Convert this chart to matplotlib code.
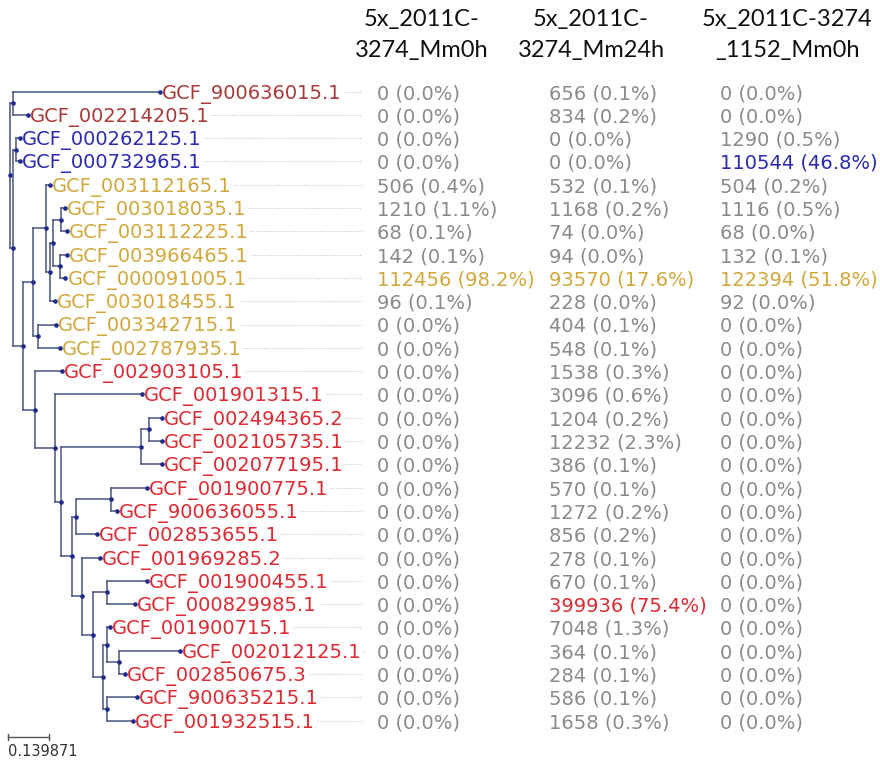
import matplotlib
matplotlib.use("Agg")
import matplotlib.pyplot as plt

# --- data ---------------------------------------------------------------
labels = [
    "GCF_900636015.1", "GCF_002214205.1", "GCF_000262125.1", "GCF_000732965.1",
    "GCF_003112165.1", "GCF_003018035.1", "GCF_003112225.1", "GCF_003966465.1",
    "GCF_000091005.1", "GCF_003018455.1", "GCF_003342715.1", "GCF_002787935.1",
    "GCF_002903105.1", "GCF_001901315.1", "GCF_002494365.2", "GCF_002105735.1",
    "GCF_002077195.1", "GCF_001900775.1", "GCF_900636055.1", "GCF_002853655.1",
    "GCF_001969285.2", "GCF_001900455.1", "GCF_000829985.1", "GCF_001900715.1",
    "GCF_002012125.1", "GCF_002850675.3", "GCF_900635215.1", "GCF_001932515.1",
]
groups = ["brown"] * 2 + ["blue"] * 2 + ["gold"] * 8 + ["red"] * 16

palette = {
    "brown": "#a93a38",
    "blue": "#2b2bb0",
    "gold": "#d2a83c",
    "red": "#dc2a32",
}

# tree, branch lengths in substitutions/site
tree_newick = (
    "((GCF_900636015.1:0.501,GCF_002214205.1:0.051):0.010,"
    "((GCF_000262125.1:0.014,GCF_000732965.1:0.014):0.010,"
    "(((GCF_003112165.1:0.014,"
    "(((GCF_003018035.1:0.014,GCF_003112225.1:0.020):0.027,"
    "(GCF_003966465.1:0.024,GCF_000091005.1:0.019):0.024):0.010,"
    "GCF_003018455.1:0.017):0.014):0.044,"
    "(GCF_003342715.1:0.061,GCF_002787935.1:0.075):0.017):0.034,"
    "(GCF_002903105.1:0.092,"
    "(GCF_001901315.1:0.297,"
    "(((GCF_002494365.2:0.044,GCF_002105735.1:0.044):0.027,"
    "GCF_002077195.1:0.072):0.273,"
    "(((GCF_001900775.1:0.123,GCF_900636055.1:0.020):0.119,"
    "GCF_002853655.1:0.072):0.014,"
    "(GCF_001969285.2:0.061,"
    "((GCF_001900455.1:0.136,GCF_000829985.1:0.096):0.048,"
    "((GCF_001900715.1:0.010,"
    "(GCF_002012125.1:0.208,GCF_002850675.3:0.020):0.041):0.014,"
    "(GCF_900635215.1:0.102,GCF_001932515.1:0.089):0.014):0.034"
    "):0.038):0.034):0.038):0.020):0.068):0.041):0.034):0.010);"
)
scale_length = 0.139871

headers = ["5x_2011C-\n3274_Mm0h", "5x_2011C-\n3274_Mm24h", "5x_2011C-3274\n_1152_Mm0h"]

counts_mm0h = [0, 0, 0, 0, 506, 1210, 68, 142, 112456, 96] + [0] * 18
pct_mm0h = [0.0, 0.0, 0.0, 0.0, 0.4, 1.1, 0.1, 0.1, 98.2, 0.1] + [0.0] * 18

counts_mm24h = [656, 834, 0, 0, 532, 1168, 74, 94, 93570, 228, 404, 548, 1538, 3096,
                1204, 12232, 386, 570, 1272, 856, 278, 670, 399936, 7048, 364, 284,
                586, 1658]
pct_mm24h = [0.1, 0.2, 0.0, 0.0, 0.1, 0.2, 0.0, 0.0, 17.6, 0.0, 0.1, 0.1, 0.3, 0.6,
             0.2, 2.3, 0.1, 0.1, 0.2, 0.2, 0.1, 0.1, 75.4, 1.3, 0.1, 0.1, 0.1, 0.3]

counts_1152 = [0, 0, 1290, 110544, 504, 1116, 68, 132, 122394, 92] + [0] * 18
pct_1152 = [0.0, 0.0, 0.5, 46.8, 0.2, 0.5, 0.0, 0.1, 51.8, 0.0] + [0.0] * 18

table = [(counts_mm0h, pct_mm0h), (counts_mm24h, pct_mm24h), (counts_1152, pct_1152)]
highlight_pct = 10.0


def parse_newick(s):
    pos = 0

    def node():
        nonlocal pos
        children = []
        if s[pos] == "(":
            pos += 1
            children.append(node())
            while s[pos] == ",":
                pos += 1
                children.append(node())
            pos += 1  # closing bracket
        start = pos
        while s[pos] not in ",);":
            pos += 1
        name, _, length = s[start:pos].partition(":")
        return {"name": name, "length": float(length or 0), "children": children}

    return node()


def layout(nd, x0=0.0):
    """x = distance from root, y = row of leaf / middle of children."""
    nd["x"] = x0 + nd["length"]
    if not nd["children"]:
        nd["y"] = labels.index(nd["name"])
        return
    for ch in nd["children"]:
        layout(ch, nd["x"])
    ys = [ch["y"] for ch in nd["children"]]
    nd["y"] = (min(ys) + max(ys)) / 2


# --- figure -------------------------------------------------------------
W, H = 880, 763
fig = plt.figure(figsize=(W / 100, H / 100), dpi=100)
ax = fig.add_axes([0, 0, 1, 1])
ax.axis("off")

px_per_unit = 41 / scale_length
root_px, row0_px, row_px = 10, 91.5, 23.3
ax.set_xlim(-root_px / px_per_unit, (W - root_px) / px_per_unit)
ax.set_ylim((H - row0_px) / row_px, -row0_px / row_px)

line_color = "#4a5480"
dot_color = "#1f2b8c"
value_gray = "#8a8a8a"
text_font = "DejaVu Sans"

root = parse_newick(tree_newick)
root["length"] = 0.0
layout(root)

leaf_nodes = []


def draw(nd):
    ax.plot(nd["x"], nd["y"], "o", ms=2.3, color=dot_color, zorder=3)
    if not nd["children"]:
        leaf_nodes.append(nd)
        return
    ys = [ch["y"] for ch in nd["children"]]
    ax.plot([nd["x"], nd["x"]], [min(ys), max(ys)], color=line_color, lw=1.1)
    for ch in nd["children"]:
        ax.plot([nd["x"], ch["x"]], [ch["y"], ch["y"]], color=line_color, lw=1.1)
        draw(ch)


draw(root)

label_texts = []
for nd in leaf_nodes:
    row = nd["y"]
    t = ax.text(nd["x"] + 2 / px_per_unit, row, nd["name"], fontsize=14,
                family=text_font, ha="left", va="center_baseline",
                color=palette[groups[row]])
    label_texts.append(t)

# value columns (x in axes fraction, y in rows)
col_x = [377 / W, 549 / W, 720 / W]
ytrans = ax.get_yaxis_transform()
for cx, (counts, pcts) in zip(col_x, table):
    for row, (c, p) in enumerate(zip(counts, pcts)):
        color = palette[groups[row]] if p >= highlight_pct else value_gray
        ax.text(cx, row, f"{c} ({p:.1f}%)", transform=ytrans, fontsize=14,
                family=text_font, ha="left", va="center_baseline", color=color)

# dotted leaders from each label to the value columns
fig.canvas.draw()
renderer = fig.canvas.get_renderer()
leader_end = 362 / W
for t, nd in zip(label_texts, leaf_nodes):
    bb = t.get_window_extent(renderer)
    start = ax.transAxes.inverted().transform((bb.x1 + 2, 0))[0]
    ax.plot([start, leader_end], [nd["y"], nd["y"]], transform=ytrans,
            color="#c4c4c4", lw=0.8, ls=(0, (1, 1.5)))

# column headers
head_x = [422 / W, 591 / W, 787 / W]
for hx, head in zip(head_x, headers):
    first, second = head.split("\n")
    fig.text(hx, 1 - 26 / H, first, ha="center", va="baseline",
             fontsize=17, family="Lato", color="#111111")
    fig.text(hx, 1 - 57 / H, second, ha="center", va="baseline",
             fontsize=17, family="Lato", color="#111111")

# scale bar
bar_y = (737 - row0_px) / row_px
bar_x0 = -2 / px_per_unit
tick = 0.12
ax.plot([bar_x0, bar_x0 + scale_length], [bar_y, bar_y], color="#555555", lw=1.0)
for bx in (bar_x0, bar_x0 + scale_length):
    ax.plot([bx, bx], [bar_y - tick, bar_y + tick], color="#555555", lw=1.0)
ax.text(bar_x0, (752 - row0_px) / row_px, f"{scale_length}", fontsize=10.5,
        family=text_font, ha="left", va="center", color="#333333")

fig.savefig("out.png", dpi=100)
